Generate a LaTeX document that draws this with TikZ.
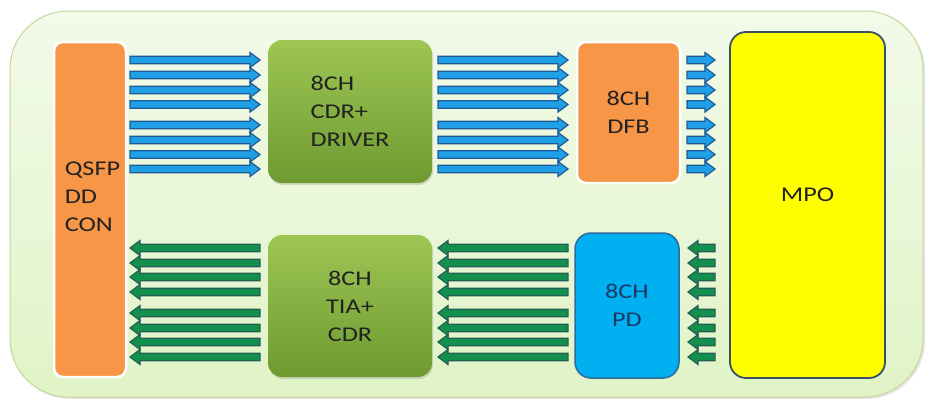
\documentclass[tikz,border=0pt]{standalone}
\usepackage{fontspec}
\setmainfont{Carlito}[FakeStretch=1.25]
\usetikzlibrary{calc,shadows}

\definecolor{bgtop}{HTML}{F2FAE9}
\definecolor{bgbot}{HTML}{E0F4C6}
\definecolor{bgline}{HTML}{C6D59B}
\definecolor{conorange}{HTML}{F79646}
\definecolor{chiptop}{HTML}{9DC653}
\definecolor{chipbot}{HTML}{6E9A31}
\definecolor{pdblue}{HTML}{00B0F0}
\definecolor{pdline}{HTML}{2E6A9E}
\definecolor{mpoline}{HTML}{3C5064}
\definecolor{mpofill}{HTML}{FFFF00}
\definecolor{txfill}{HTML}{1FA0E6}
\definecolor{txline}{HTML}{1F5A96}
\definecolor{rxfill}{HTML}{13904E}
\definecolor{rxline}{HTML}{245F55}
\definecolor{boxtext}{HTML}{222222}
\definecolor{pdtext}{HTML}{1B3A66}

\newcommand\boxfont{\fontsize{21}{28}\selectfont}

\tikzset{
  box/.style={draw=white, line width=2.5pt, rounded corners=9pt, inner sep=0pt,
    outer sep=0pt, align=center, text=boxtext, font=\boxfont},
  chip/.style={box, draw=none, top color=chiptop, bottom color=chipbot, rounded corners=14pt,
    drop shadow={opacity=0.25, shadow xshift=1pt, shadow yshift=-2pt}},
  % block arrow to the right: gap at start, gap at end
  txarrow/.style 2 args={draw=txline, fill=txfill, line width=1.2pt,
    to path={let \p1=(\tikztostart), \p2=(\tikztotarget) in
      (\x1+#1,\y1+3.8pt) -- (\x2-#2-10pt,\y1+3.8pt) -- (\x2-#2-10pt,\y1+7.5pt)
      -- (\x2-#2,\y1) -- (\x2-#2-10pt,\y1-7.5pt) -- (\x2-#2-10pt,\y1-3.8pt)
      -- (\x1+#1,\y1-3.8pt) -- cycle}},
  % block arrow to the left
  rxarrow/.style 2 args={draw=rxline, fill=rxfill, line width=1.2pt,
    to path={let \p1=(\tikztostart), \p2=(\tikztotarget) in
      (\x1-#1,\y1+3.8pt) -- (\x2+#2+10pt,\y1+3.8pt) -- (\x2+#2+10pt,\y1+7.5pt)
      -- (\x2+#2,\y1) -- (\x2+#2+10pt,\y1-7.5pt) -- (\x2+#2+10pt,\y1-3.8pt)
      -- (\x1-#1,\y1-3.8pt) -- cycle}},
}

\begin{document}
\begin{tikzpicture}[x=1pt, y=-1pt]
    \useasboundingbox (0,0) rectangle (925,399);

    % Module outline
    \draw[draw=bgline, line width=1pt, rounded corners=58pt, top color=bgtop, bottom color=bgbot,
        drop shadow={opacity=0.2, shadow xshift=2pt, shadow yshift=-2pt}]
        (10,11) rectangle (923,397);

    % Blocks
    \node[box, fill=conorange, minimum width=72pt, minimum height=335pt] (qsfp) at (90,209.5) {};
    \node[align=left, text=boxtext, font=\boxfont] (qsfplabel) at (92.5,197) {QSFP\\DD\\CON};
    \node[chip, minimum width=164pt, minimum height=143pt, align=left] (cdr) at (350,111.5) {8CH\\CDR+\\DRIVER};
    \node[box, fill=conorange, minimum width=103pt, minimum height=141pt] (dfb) at (628.5,112.5) {8CH\\DFB};
    \node[chip, minimum width=164pt, minimum height=142pt] (tia) at (350,306) {8CH\\TIA+\\CDR};
    \node[box, draw=pdline, line width=1.5pt, rounded corners=16pt, fill=pdblue, text=pdtext,
        minimum width=104pt, minimum height=145pt] (pd) at (627,305.5) {8CH\\PD};
    \node[box, draw=mpoline, line width=1.8pt, rounded corners=16pt, fill=mpofill,
        minimum width=155pt, minimum height=346pt] (mpo) at (807.5,205) {};
    \node[text=boxtext, font=\boxfont] (mpolabel) at ([yshift=10pt]mpo.center) {MPO};

    % Transmit lanes
    \foreach \lane in {60,75,90,104.5,125,140,154.5,169}{
        \path[txarrow={4}{8}] (qsfp.east |- 0,\lane) to (cdr.west |- 0,\lane);
        \path[txarrow={6}{9}] (cdr.east |- 0,\lane) to (dfb.west |- 0,\lane);
        \path[txarrow={7}{15}] (dfb.east |- 0,\lane) to (mpo.west |- 0,\lane);
    }

    % Receive lanes
    \foreach \lane in {248,263,277,292,313,328,342,357}{
        \path[rxarrow={8}{4}] (tia.west |- 0,\lane) to (qsfp.east |- 0,\lane);
        \path[rxarrow={7}{6}] (pd.west |- 0,\lane) to (tia.east |- 0,\lane);
        \path[rxarrow={15}{9}] (mpo.west |- 0,\lane) to (pd.east |- 0,\lane);
    }

\end{tikzpicture}
\end{document}
